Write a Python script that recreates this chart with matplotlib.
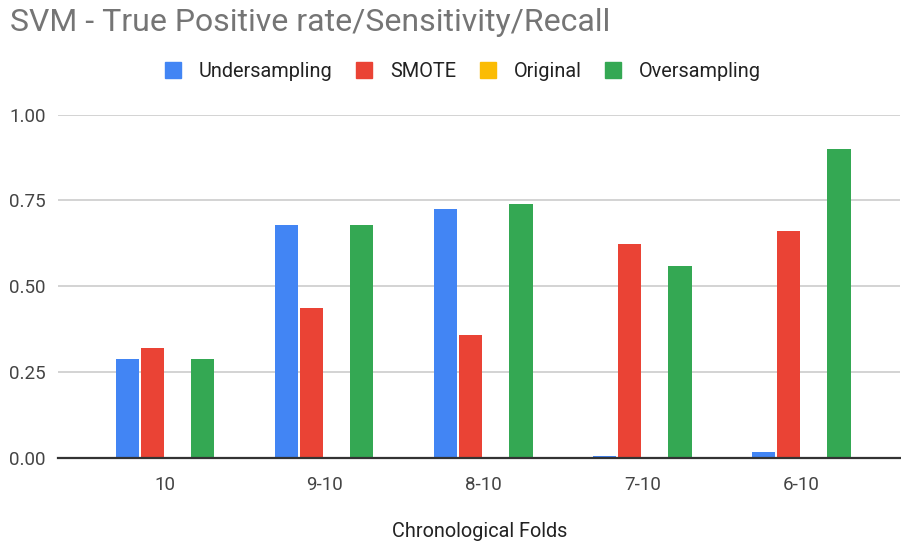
import numpy as np
import matplotlib.pyplot as plt
from matplotlib.lines import Line2D

plt.rcParams['font.family'] = ['Roboto', 'DejaVu Sans']

# data
folds = ["10", "9-10", "8-10", "7-10", "6-10"]
undersampling = [0.287, 0.678, 0.726, 0.006, 0.016]
smote = [0.319, 0.436, 0.357, 0.623, 0.660]
original = [0.0, 0.0, 0.0, 0.0, 0.0]
oversampling = [0.287, 0.678, 0.740, 0.558, 0.899]

names = ["Undersampling", "SMOTE", "Original", "Oversampling"]
colors = ["#4285F4", "#EA4335", "#FBBC04", "#34A853"]
series = [undersampling, smote, original, oversampling]

fig = plt.figure(figsize=(9.01, 5.44), dpi=100)
ax = fig.add_axes([0.0644, 0.1586, 0.935, 0.6305])

x = np.arange(len(folds))
slot = 0.158
width = 0.146
for k, (vals, c) in enumerate(zip(series, colors)):
    ax.bar(x + (k - 1.5) * slot, vals, width, color=c, zorder=3)

ax.set_xlim(-0.673, 4.623)
ax.set_ylim(0, 1.0)
ax.set_yticks([0, 0.25, 0.5, 0.75, 1.0])
ax.set_yticklabels(["0.00", "0.25", "0.50", "0.75", "1.00"])
ax.set_xticks(x)
ax.set_xticklabels(folds)
ax.tick_params(axis='both', length=0, labelsize=13.5, labelcolor="#444444")
ax.tick_params(axis='y', pad=9)
ax.tick_params(axis='x', pad=13)
ax.yaxis.grid(True, color="#cccccc", linewidth=1.2, zorder=0)
for s in ["top", "right", "left"]:
    ax.spines[s].set_visible(False)
ax.spines["bottom"].set_color("#333333")
ax.spines["bottom"].set_linewidth(1.6)
ax.spines["bottom"].set_zorder(4)
ax.set_xlabel("Chronological Folds", fontsize=14.3, color="#222222", labelpad=20)

fig.text(0.011, 0.958, "SVM - True Positive rate/Sensitivity/Recall",
         fontsize=23, color="#757575", va="center", ha="left")

handles = [Line2D([], [], marker='s', linestyle='none', markersize=11,
                  markerfacecolor=c, markeredgecolor=c) for c in colors]
fig.legend(handles, names, loc="center", bbox_to_anchor=(0.513, 0.869), ncol=4,
           frameon=False, fontsize=14.3, handlelength=1.0, handletextpad=0.8,
           columnspacing=1.1, labelcolor="#222222")

fig.savefig("out.png", dpi=100)
